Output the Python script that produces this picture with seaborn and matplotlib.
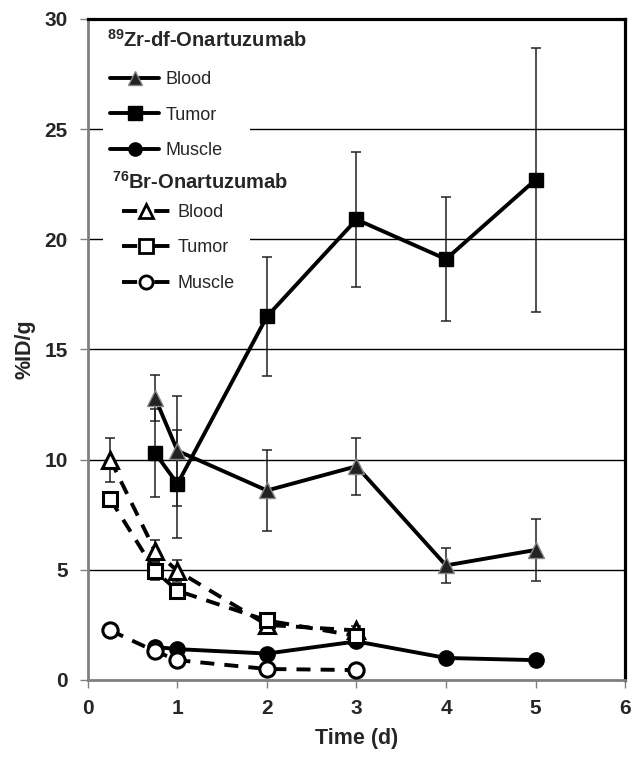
import matplotlib
matplotlib.use("Agg")
import matplotlib.pyplot as plt
from matplotlib.lines import Line2D
from matplotlib.patches import Rectangle
import seaborn as sns
import pandas as pd
import numpy as np

# ---- data ----
zr_time = [0.75, 1, 2, 3, 4, 5]
zr_blood = [12.8, 10.4, 8.6, 9.7, 5.2, 5.9]
zr_blood_err = [1.05, 2.5, 1.85, 1.3, 0.8, 1.4]
zr_tumor = [10.3, 8.9, 16.5, 20.9, 19.1, 22.7]
zr_tumor_err = [2.0, 2.45, 2.7, 3.05, 2.8, 6.0]
zr_muscle = [1.5, 1.4, 1.2, 1.75, 1.0, 0.9]
zr_muscle_err = [0.15, 0.15, 0.15, 0.2, 0.1, 0.1]

br_time = [0.25, 0.75, 1, 2, 3]
br_blood = [10.0, 5.85, 4.95, 2.5, 2.25]
br_blood_err = [1.0, 0.5, 0.5, 0.3, 0.2]
br_tumor = [8.2, 4.95, 4.05, 2.7, 2.0]
br_tumor_err = [0.2, 0.4, 0.3, 0.3, 0.2]
br_muscle = [2.25, 1.3, 0.9, 0.5, 0.45]
br_muscle_err = [0.1, 0.1, 0.1, 0.1, 0.1]

x_ticks = [0, 1, 2, 3, 4, 5, 6]
y_ticks = [0, 5, 10, 15, 20, 25, 30]
organ_labels = ['Blood', 'Tumor', 'Muscle']

sns.set_theme(style="white")
plt.rcParams['font.family'] = ['Liberation Sans', 'DejaVu Sans']
plt.rcParams['mathtext.fontset'] = 'custom'
plt.rcParams['mathtext.rm'] = 'Liberation Sans'
plt.rcParams['mathtext.bf'] = 'Liberation Sans:bold'

fig = plt.figure(figsize=(6.39, 7.59), dpi=100)
ax = fig.add_axes([0.1377, 0.1041, 0.8404, 0.8709])

LW = 2.8
series = [
    (zr_time, zr_blood, zr_blood_err, '^', '#222222', '#888888', '-', 11),
    (zr_time, zr_tumor, zr_tumor_err, 's', 'black', 'black', '-', 10),
    (zr_time, zr_muscle, zr_muscle_err, 'o', 'black', 'black', '-', 11),
    (br_time, br_blood, br_blood_err, '^', 'white', 'black', '--', 12),
    (br_time, br_tumor, br_tumor_err, 's', 'white', 'black', '--', 10.5),
    (br_time, br_muscle, br_muscle_err, 'o', 'white', 'black', '--', 11),
]

for t, v, e, m, fc, ec, ls, ms in series:
    ax.errorbar(t, v, yerr=e, fmt='none', ecolor='#222222', elinewidth=1.1,
                capsize=3.3, capthick=1.1, zorder=2)

for t, v, e, m, fc, ec, ls, ms in series:
    df = pd.DataFrame({'t': t, 'v': v})
    sns.lineplot(data=df, x='t', y='v', ax=ax, color='black', linewidth=LW,
                 linestyle=ls, marker=m, markersize=ms,
                 markerfacecolor=fc, markeredgecolor=ec,
                 markeredgewidth=2.2 if fc == 'white' else 1.0,
                 zorder=3, legend=False)
for line in ax.get_lines():
    if line.get_linestyle() == '--':
        line.set_dashes((3.6, 2.6))

ax.set_xlim(0, 6)
ax.set_ylim(0, 30)
ax.set_xticks(x_ticks)
ax.set_yticks(y_ticks)
ax.set_xticklabels([str(x) for x in x_ticks], fontsize=15, fontweight='bold')
ax.set_yticklabels([str(y) for y in y_ticks], fontsize=15, fontweight='bold')
ax.set_xlabel('Time (d)', fontsize=15.5, fontweight='bold', labelpad=7)
ax.set_ylabel('%ID/g', fontsize=15.5, fontweight='bold', labelpad=6.5)

for y in y_ticks[1:-1]:
    ax.axhline(y, color='black', linewidth=1.0, zorder=1)

for s in ['left', 'bottom']:
    ax.spines[s].set_color('#808080')
    ax.spines[s].set_linewidth(2.0)
for s in ['top', 'right']:
    ax.spines[s].set_color('black')
    ax.spines[s].set_linewidth(2.3)
ax.tick_params(axis='both', direction='out', length=5.5, width=1.0, color='#808080',
               bottom=True, left=True)
ax.tick_params(axis='x', pad=8.5)
ax.tick_params(axis='y', pad=9)

# white legend background (covers gridlines, below data)
ax.add_patch(Rectangle((0.028, 0.587), 0.274, 0.404, transform=ax.transAxes,
                       facecolor='white', edgecolor='none', zorder=1.5))

def handles(fcs, ecs, ls):
    hs = []
    for m, fc, ec in zip(['^', 's', 'o'], fcs, ecs):
        h = Line2D([], [], color='black', linewidth=LW, linestyle=ls, marker=m,
                   markersize=9.5, markerfacecolor=fc, markeredgecolor=ec,
                   markeredgewidth=2.0 if fc == 'white' else 1.0)
        if ls == '--':
            h.set_dashes((3.9, 4.4))
        hs.append(h)
    return hs

h1 = handles(['#222222', 'black', 'black'], ['#888888', 'black', 'black'], '-')
h2 = handles(['white', 'white', 'white'], ['black', 'black', 'black'], '--')

common = dict(loc='upper left', frameon=False, fontsize=13, handlelength=2.7,
              handletextpad=0.35, labelspacing=1.02, borderpad=0.4,
              borderaxespad=0)
leg1 = ax.legend(h1, organ_labels, bbox_to_anchor=(0.028, 0.932), **common)
leg1.set_zorder(1.6)
ax.add_artist(leg1)
leg2 = ax.legend(h2, organ_labels, bbox_to_anchor=(0.050, 0.731), **common)
leg2.set_zorder(1.6)

ax.text(0.0354, 0.968, r'$^{\mathbf{89}}$Zr-df-Onartuzumab', transform=ax.transAxes,
        ha='left', va='center', fontsize=14.5, fontweight='bold', zorder=4)
ax.text(0.0447, 0.753, r'$^{\mathbf{76}}$Br-Onartuzumab', transform=ax.transAxes,
        ha='left', va='center', fontsize=14.5, fontweight='bold', zorder=4)

fig.savefig('out.png', dpi=100)
